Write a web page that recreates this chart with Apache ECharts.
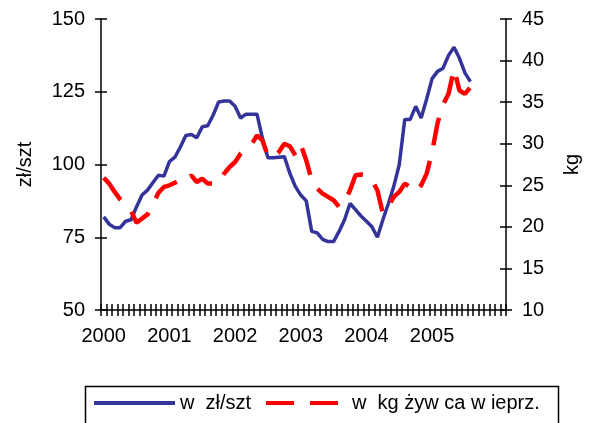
<!DOCTYPE html>
<html>
<head>
<meta charset="utf-8">
<script src="https://cdn.jsdelivr.net/npm/echarts@6/dist/echarts.min.js"></script>
<style>
  html, body { margin: 0; padding: 0; background: #fff; }
  #chart { width: 590px; height: 423px; }
</style>
</head>
<body>
<div id="chart"></div>
<script>
// Monthly categories, Jan 2000 - Feb 2006 (data runs through Aug 2005)
const months = [];
for (let y = 2000; y <= 2006; y++) {
  for (let m = 1; m <= 12; m++) {
    if (y === 2006 && m > 2) break;
    months.push(y + '-' + (m < 10 ? '0' + m : m));
  }
}

// Price per head, zł/szt (left axis)
const pricePerHead = [
  82, 79.5, 78.3, 78.3, 80.5, 81, 85.5, 89.5, 91.2, 93.8, 96.3, 96,
  101, 102.5, 106, 110, 110.3, 109.2, 113, 113.3, 117, 121.5, 121.8, 121.8,
  120, 116, 117.3, 117.3, 117.3, 109, 102.3, 102.3, 102.5, 102.7, 97, 92.5,
  89.5, 87.5, 77, 76.5, 74.3, 73.5, 73.5, 77, 81, 86.6, 84.5, 82.3,
  80.5, 78.6, 75, 81, 86.5, 92.5, 100, 115.5, 115.5, 120, 116, 122.5,
  129.5, 132, 133.1, 137.5, 140.3, 136.5, 131.5, 128.5
];

// Piglets expressed in kg of live pig (right axis)
const kgLivePig = [
  25.9, 25.2, 24.2, 23.3, 22.5, 21.9, 20.5, 21.0, 21.5, 22.8, 24.1, 24.8,
  25.0, 25.3, 25.6, 25.5, 26.2, 25.4, 25.8, 25.2, 25.2, 25.3, 26.4, 27.2,
  27.8, 28.8, 29.4, 29.9, 31.0, 30.4, 28.5, 28.4, 29.0, 30.0, 29.7, 28.6,
  29.9, 28.0, 25.6, 24.6, 24.0, 23.6, 23.2, 22.4, 23.0, 24.4, 26.2, 26.3,
  26.2, 25.6, 24.4, 21.6, 22.5, 23.6, 24.2, 25.2, 24.8, 24.2, 25.0, 26.4,
  29.0, 32.5, 34.7, 36.0, 39.0, 36.4, 36.0, 36.8
];

const seriesNames = ['w  zł/szt', 'w  kg żyw ca w ieprz.'];
const leftAxisName = 'zł/szt';
const rightAxisName = 'kg';

const FONT = 'Liberation Sans, Arial, sans-serif';
const FS = 20;
const axisBlack = { color: '#000', width: 1.5 };

function valueAxis(pos, min, max, interval, opts) {
  return Object.assign({
    type: 'value', position: pos, min: min, max: max, interval: interval,
    splitLine: { show: false },
    axisLine: { show: true, lineStyle: axisBlack },
    axisTick: { show: true, inside: false, length: 6, lineStyle: axisBlack },
    axisLabel: { show: true, color: '#000', fontSize: FS, fontFamily: FONT, margin: 16 }
  }, opts || {});
}

function legendBlock(name, left, iconWidth, textPad) {
  return {
    left: left, top: 393, itemWidth: iconWidth, itemHeight: 14, itemGap: 0,
    data: [name],
    itemStyle: { opacity: 0 },
    lineStyle: { width: 4 },
    textStyle: { color: '#000', fontSize: FS, fontFamily: FONT, padding: textPad },
    padding: 0
  };
}

const chart = echarts.init(document.getElementById('chart'));
chart.setOption({
  animation: false,
  backgroundColor: '#fff',
  grid: { left: 101, right: 82, top: 19, bottom: 113 },
  xAxis: [
    {
      type: 'category', data: months, position: 'bottom', boundaryGap: true,
      axisLine: { show: true, lineStyle: axisBlack },
      axisTick: { show: true, inside: false, length: 6, interval: 0, lineStyle: axisBlack },
      axisLabel: {
        show: true, interval: 0, color: '#000', fontSize: FS, fontFamily: FONT, margin: 16,
        formatter: function (v) { return v.slice(5) === '01' && v.slice(0, 4) !== '2006' ? v.slice(0, 4) : ''; }
      },
      splitLine: { show: false }
    },
    {
      type: 'category', data: months, position: 'bottom', boundaryGap: true,
      axisLine: { show: false },
      axisTick: { show: true, inside: true, length: 6, interval: 0, lineStyle: axisBlack },
      axisLabel: { show: false },
      splitLine: { show: false }
    }
  ],
  yAxis: [
    valueAxis('left', 50, 150, 25, {
      name: leftAxisName, nameLocation: 'middle', nameRotate: 90, nameGap: 66,
      nameTextStyle: { color: '#000', fontSize: FS, fontFamily: FONT }
    }),
    valueAxis('right', 10, 45, 5, {
      name: rightAxisName, nameLocation: 'middle', nameRotate: 90, nameGap: 56,
      nameTextStyle: { color: '#000', fontSize: FS, fontFamily: FONT }
    }),
    valueAxis('left', 50, 150, 25, {
      axisLine: { show: false }, axisLabel: { show: false },
      axisTick: { show: true, inside: true, length: 6, lineStyle: axisBlack }
    }),
    valueAxis('right', 10, 45, 5, {
      axisLine: { show: false }, axisLabel: { show: false },
      axisTick: { show: true, inside: true, length: 6, lineStyle: axisBlack }
    })
  ],
  legend: [
    legendBlock(seriesNames[0], 92, 81, [0, 0, 0, 0]),
    legendBlock(seriesNames[1], 264, 72, [0, 0, 0, 9])
  ],
  graphic: [
    {
      type: 'rect', silent: true,
      shape: { x: 85.5, y: 386.5, width: 473, height: 60 },
      style: { fill: 'none', stroke: '#000', lineWidth: 1.5 }
    }
  ],
  series: [
    {
      name: seriesNames[0], type: 'line', xAxisIndex: 0, yAxisIndex: 0,
      data: pricePerHead, symbol: 'none', smooth: false,
      lineStyle: { color: '#333399', width: 3.5 },
      itemStyle: { color: '#333399' }
    },
    {
      name: seriesNames[1], type: 'line', xAxisIndex: 0, yAxisIndex: 1,
      data: kgLivePig, symbol: 'none', smooth: false,
      lineStyle: { color: '#ff0000', width: 4.5, type: [28, 16] },
      itemStyle: { color: '#ff0000' }
    }
  ]
});
</script>
</body>
</html>
